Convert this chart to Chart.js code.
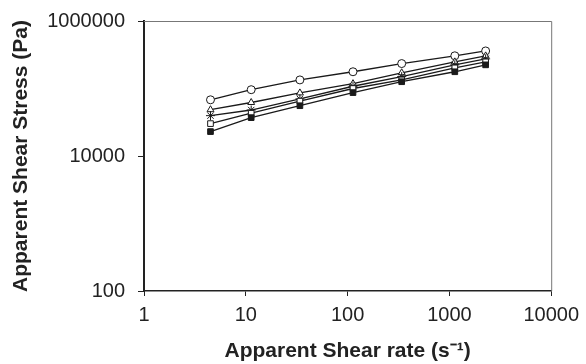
<!DOCTYPE html>
<html lang="en">
<head>
  <meta charset="UTF-8" />
  <title>Apparent shear stress vs shear rate</title>
  <script src="https://cdn.jsdelivr.net/npm/chart.js"></script>
  <style>
    html, body { margin: 0; padding: 0; background: #fff; }
    #wrap { width: 586px; height: 364px; }
  </style>
</head>
<body>
  <div id="wrap"><canvas id="chart"></canvas></div>

  <script>
    // apparent shear rate (1/s)
    const shearRate = [4.5, 11.3, 34, 113, 340, 1130, 2270];

    // apparent shear stress (Pa), one array per sample
    const circleSeries   = [68000, 96000, 134000, 177000, 234000, 305000, 360000];
    const triangleSeries = [48500, 62000, 86000, 118000, 171000, 248000, 304000];
    const starSeries     = [39600, 48000, 70000, 108000, 150000, 224000, 275000];
    const openSqSeries   = [30200, 43000, 65000, 100000, 134000, 202000, 248000];
    const filledSqSeries = [23000, 37000, 55600, 87000, 126000, 177000, 224000];

    const xTicks = [1, 10, 100, 1000, 10000];
    const yTicks = [100, 10000, 1000000];

    const font = 'Arial, "Liberation Sans", sans-serif';

    function pts(ys) {
      return ys.map((y, i) => ({ x: shearRate[i], y: y }));
    }

    function series(label, ys, style, fill) {
      return {
        label: label,
        data: pts(ys),
        borderColor: '#1a1a1a',
        borderWidth: 1.3,
        pointStyle: style,
        pointRadius: style === 'star' ? 4.5 : 4,
        pointBorderColor: '#1a1a1a',
        pointBorderWidth: 1,
        pointBackgroundColor: fill,
        tension: 0
      };
    }

    // thin grey frame on top and right of the plot area
    const framePlugin = {
      id: 'frame',
      afterDraw(chart) {
        const a = chart.chartArea, c = chart.ctx;
        c.save();
        c.strokeStyle = '#777';
        c.lineWidth = 1;
        c.beginPath();
        c.moveTo(a.left, a.top + 0.5);
        c.lineTo(a.right + 0.5, a.top + 0.5);
        c.lineTo(a.right + 0.5, a.bottom);
        c.stroke();
        c.restore();
      }
    };

    new Chart(document.getElementById('chart'), {
      type: 'line',
      data: {
        datasets: [
          series('A', filledSqSeries, 'rect', '#1a1a1a'),
          series('B', openSqSeries, 'rect', '#fff'),
          series('C', starSeries, 'star', '#fff'),
          series('D', triangleSeries, 'triangle', '#fff'),
          series('E', circleSeries, 'circle', '#fff')
        ]
      },
      options: {
        responsive: true,
        maintainAspectRatio: false,
        animation: false,
        layout: { padding: { left: 0, right: 32, top: 21, bottom: 0 } },
        plugins: { legend: { display: false }, tooltip: { enabled: false } },
        scales: {
          x: {
            type: 'logarithmic',
            min: 1,
            max: 10000,
            afterBuildTicks: s => { s.ticks = xTicks.map(v => ({ value: v })); },
            afterFit: s => { s.height = 73; },
            grid: { display: true, drawOnChartArea: false, drawTicks: true, tickLength: 5, color: '#222' },
            border: { display: true, color: '#222', width: 1.5 },
            ticks: {
              color: '#222',
              padding: 7,
              maxRotation: 0,
              font: { family: font, size: 20 },
              callback: v => String(v)
            },
            title: {
              display: true,
              text: 'Apparent Shear rate (s⁻¹)',
              color: '#222',
              padding: { top: 0, bottom: 0 },
              font: { family: font, size: 21, weight: 'bold' }
            }
          },
          y: {
            type: 'logarithmic',
            min: 100,
            max: 1000000,
            afterBuildTicks: s => { s.ticks = yTicks.map(v => ({ value: v })); },
            afterFit: s => { s.width = 144; s.paddingTop = 0; s.paddingBottom = 0; },
            grid: { display: true, drawOnChartArea: false, drawTicks: true, tickLength: 6, color: '#222' },
            border: { display: true, color: '#222', width: 2 },
            ticks: {
              color: '#222',
              padding: 13,
              font: { family: font, size: 20 },
              callback: v => String(v)
            },
            title: {
              display: true,
              text: 'Apparent Shear Stress (Pa)',
              color: '#222',
              padding: { top: 9, bottom: 0 },
              font: { family: font, size: 21, weight: 'bold' }
            }
          }
        }
      },
      plugins: [framePlugin]
    });
  </script>
</body>
</html>
